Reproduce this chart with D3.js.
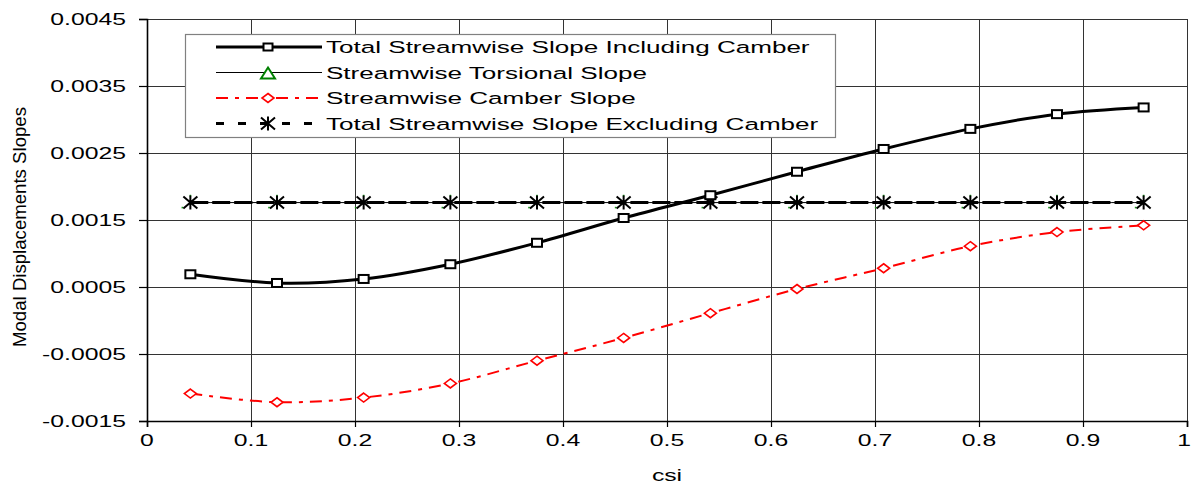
<!DOCTYPE html>
<html>
<head>
<meta charset="utf-8">
<script src="https://cdn.jsdelivr.net/npm/d3@7"></script>
<style>
  html, body { margin: 0; padding: 0; background: #fff; }
  svg { display: block; font-family: "Liberation Sans", Arial, sans-serif; }
</style>
</head>
<body>
<svg id="chart" width="1192" height="487"></svg>
<script>
// Spanwise stations (csi) and slope series
const csi = [0.0417, 0.125, 0.2083, 0.2917, 0.375, 0.4583, 0.5417, 0.625, 0.7083, 0.7917, 0.875, 0.9583];
const totalIncludingCamber = [0.00069, 0.00056, 0.00062, 0.00084, 0.00116, 0.00153, 0.00187, 0.00222, 0.00256, 0.00286, 0.00308, 0.00318];
const torsionalSlope = [0.00176, 0.00176, 0.00176, 0.00176, 0.00176, 0.00176, 0.00176, 0.00176, 0.00176, 0.00176, 0.00176, 0.00176];
const camberSlope = [-0.00109, -0.00122, -0.00115, -0.00094, -0.00060, -0.00026, 0.00011, 0.00047, 0.00078, 0.00111, 0.00132, 0.00142];
const totalExcludingCamber = [0.00176, 0.00176, 0.00176, 0.00176, 0.00176, 0.00176, 0.00176, 0.00176, 0.00176, 0.00176, 0.00176, 0.00176];

const yTickValues = [-0.0015, -0.0005, 0.0005, 0.0015, 0.0025, 0.0035, 0.0045];
const yTickLabels = ["-0.0015", "-0.0005", "0.0005", "0.0015", "0.0025", "0.0035", "0.0045"];
const xTickValues = [0, 0.1, 0.2, 0.3, 0.4, 0.5, 0.6, 0.7, 0.8, 0.9, 1];
const xTickLabels = ["0", "0.1", "0.2", "0.3", "0.4", "0.5", "0.6", "0.7", "0.8", "0.9", "1"];

const seriesNames = [
  "Total Streamwise Slope Including Camber",
  "Streamwise Torsional Slope",
  "Streamwise Camber Slope",
  "Total Streamwise Slope Excluding Camber"
];

const svg = d3.select("#chart");
const x = d3.scaleLinear().domain([0, 1]).range([147, 1187]);
const y = d3.scaleLinear().domain([-0.0015, 0.0045]).range([421, 19]);
const FONT = 16.5;

// text helper with the wide glyph proportions of the chart
function label(g, tx, ty, str, anchor, stretch = 1.5) {
  return g.append("text")
    .attr("transform", `translate(${tx},${ty}) scale(${stretch},1)`)
    .attr("text-anchor", anchor)
    .attr("font-size", FONT)
    .attr("fill", "#000")
    .text(str);
}

// gridlines
const grid = svg.append("g").attr("stroke", "#333").attr("stroke-width", 1);
yTickValues.slice(1).forEach(v => {
  grid.append("line").attr("x1", x(0)).attr("x2", x(1))
    .attr("y1", Math.round(y(v)) + 0.5).attr("y2", Math.round(y(v)) + 0.5);
});
xTickValues.slice(1).forEach(v => {
  grid.append("line").attr("y1", y(0.0045)).attr("y2", y(-0.0015))
    .attr("x1", Math.round(x(v)) + 0.5).attr("x2", Math.round(x(v)) + 0.5);
});

// axes
const yAxis = d3.axisLeft(y).tickValues(yTickValues).tickSize(8).tickFormat("");
const xAxis = d3.axisBottom(x).tickValues(xTickValues).tickSize(6).tickFormat("");
const gy = svg.append("g").attr("transform", `translate(${x(0)},0)`).call(yAxis);
const gx = svg.append("g").attr("transform", `translate(0,${y(-0.0015)})`).call(xAxis);
[gy, gx].forEach(g => {
  g.select(".domain").attr("stroke", "#000").attr("stroke-width", 1.6);
  g.selectAll(".tick line").attr("stroke", "#000").attr("stroke-width", 1.2);
});

const tl = svg.append("g");
yTickValues.forEach((v, i) => label(tl, 126, y(v) + 6, yTickLabels[i], "end"));
xTickValues.forEach((v, i) => {
  const last = i === xTickValues.length - 1;
  label(tl, last ? 1191 : x(v), 446, xTickLabels[i], last ? "end" : "middle");
});
label(tl, x(0.5), 481, "csi", "middle");

svg.append("text")
  .attr("transform", `translate(26,${(107 + 347) / 2}) rotate(-90)`)
  .attr("text-anchor", "middle")
  .attr("font-size", 18)
  .attr("textLength", 240)
  .attr("lengthAdjust", "spacingAndGlyphs")
  .text("Modal Displacements Slopes");

// markers
const starPath = "M-7,-6L7,6M-7,6L7,-6M0,-7L0,7";
const diamondPath = "M0,-4.5L6,0L0,4.5L-6,0Z";
const trianglePath = "M0,-6L7,5L-7,5Z";

function drawSquare(g, cx, cy, w, h) {
  g.append("rect").attr("x", cx - w / 2).attr("y", cy - h / 2).attr("width", w).attr("height", h)
    .attr("fill", "#fff").attr("stroke", "#000").attr("stroke-width", 2);
}

const line = d3.line().x((d, i) => x(csi[i])).y(d => y(d)).curve(d3.curveCardinal.tension(0));
const plot = svg.append("g");

// torsional slope: thin solid line, triangle markers almost hidden under the stars
plot.append("path").attr("d", line(torsionalSlope)).attr("fill", "none")
  .attr("stroke", "#000").attr("stroke-width", 1);
torsionalSlope.forEach((v, i) => {
  const cx = x(csi[i]), cy = y(v);
  [[0, -7], [-8, 5]].forEach(([dx, dy]) => {
    plot.append("rect").attr("x", cx + dx - 0.8).attr("y", cy + dy - 0.8)
      .attr("width", 1.6).attr("height", 1.6).attr("fill", "#1a9a1a");
  });
});

// total slope excluding camber: dashed line with stars
plot.append("path").attr("d", line(totalExcludingCamber)).attr("fill", "none")
  .attr("stroke", "#000").attr("stroke-width", 3).attr("stroke-dasharray", "18,4");
totalExcludingCamber.forEach((v, i) => {
  plot.append("path").attr("d", starPath)
    .attr("transform", `translate(${x(csi[i])},${y(v)})`)
    .attr("stroke", "#000").attr("stroke-width", 2).attr("fill", "none");
});

// camber slope: red dash-dot line with diamonds
plot.append("path").attr("d", line(camberSlope)).attr("fill", "none")
  .attr("stroke", "#ff0000").attr("stroke-width", 2).attr("stroke-dasharray", "12,7,4,7");
camberSlope.forEach((v, i) => {
  plot.append("path").attr("d", diamondPath)
    .attr("transform", `translate(${x(csi[i])},${y(v)})`)
    .attr("stroke", "#ff0000").attr("stroke-width", 1.6).attr("fill", "#fff");
});

// total slope including camber: heavy solid line with squares
plot.append("path").attr("d", line(totalIncludingCamber)).attr("fill", "none")
  .attr("stroke", "#000").attr("stroke-width", 3);
totalIncludingCamber.forEach((v, i) => drawSquare(plot, x(csi[i]), y(v), 10, 8));

// legend
const lg = svg.append("g");
lg.append("rect").attr("x", 185.5).attr("y", 34.5).attr("width", 650).attr("height", 103)
  .attr("fill", "#fff").attr("stroke", "#808080").attr("stroke-width", 1.2);
const rowY = [47, 72.5, 98, 123.5];
const lx1 = 216, lx2 = 322, lmx = 268;

lg.append("line").attr("x1", lx1).attr("x2", lx2).attr("y1", rowY[0]).attr("y2", rowY[0])
  .attr("stroke", "#000").attr("stroke-width", 3);
drawSquare(lg, lmx, rowY[0], 9, 7);

lg.append("line").attr("x1", lx1).attr("x2", lx2).attr("y1", rowY[1]).attr("y2", rowY[1])
  .attr("stroke", "#000").attr("stroke-width", 1);
lg.append("path").attr("d", trianglePath).attr("transform", `translate(${lmx},${rowY[1] + 1})`)
  .attr("fill", "#fff").attr("stroke", "#008000").attr("stroke-width", 2);

lg.append("line").attr("x1", lx1).attr("x2", lx2).attr("y1", rowY[2]).attr("y2", rowY[2])
  .attr("stroke", "#ff0000").attr("stroke-width", 2).attr("stroke-dasharray", "12,7,4,7");
lg.append("path").attr("d", diamondPath).attr("transform", `translate(${lmx},${rowY[2]})`)
  .attr("fill", "#fff").attr("stroke", "#ff0000").attr("stroke-width", 1.6);

lg.append("line").attr("x1", lx1).attr("x2", lx2).attr("y1", rowY[3]).attr("y2", rowY[3])
  .attr("stroke", "#000").attr("stroke-width", 3).attr("stroke-dasharray", "8,14");
lg.append("path").attr("d", starPath).attr("transform", `translate(${lmx},${rowY[3]})`)
  .attr("fill", "none").attr("stroke", "#000").attr("stroke-width", 2);

seriesNames.forEach((name, i) => label(lg, 326, rowY[i] + 6, name, "start", 1.58));
</script>
</body>
</html>
